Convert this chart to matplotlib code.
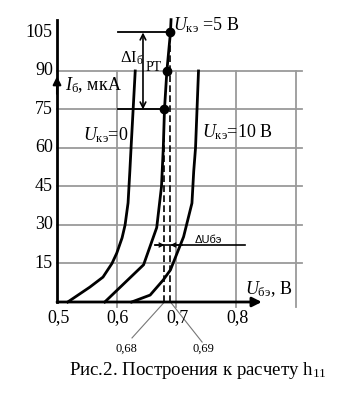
import matplotlib
matplotlib.use("Agg")
import matplotlib.pyplot as plt

plt.rcParams['font.family'] = ['Liberation Serif', 'DejaVu Serif']
plt.rcParams['mathtext.fontset'] = 'custom'
plt.rcParams['mathtext.rm'] = 'Liberation Serif'
plt.rcParams['mathtext.it'] = 'Liberation Serif:italic'

# input characteristics Iб(Uбэ) for Uкэ = 0, 5, 10 В
u_ce0_u = [0.518, 0.555, 0.577, 0.592, 0.600, 0.609, 0.614, 0.619, 0.622, 0.624, 0.631]
u_ce0_i = [0, 5.8, 9.7, 15, 19, 25, 30, 38.6, 51, 60, 90]

u_ce5_u = [0.580, 0.645, 0.667, 0.675, 0.678, 0.680, 0.684, 0.690, 0.691]
u_ce5_i = [0, 14.5, 29, 45, 60, 75, 90, 105, 110]

u_ce10_u = [0.625, 0.656, 0.678, 0.690, 0.712, 0.726, 0.729, 0.732, 0.737]
u_ce10_i = [0, 2.7, 8.6, 12.5, 25.4, 38.5, 51, 60, 90]

# working points (Iб = 75, 90, 105 мкА on Uкэ = 5 В)
pt_u = [0.680, 0.684, 0.690]
pt_i = [75, 90, 105]

x_ticks = [0.5, 0.6, 0.7, 0.8]
x_labels = ['0,5', '0,6', '0,7', '0,8']
y_ticks = [15, 30, 45, 60, 75, 90, 105]
grid_x = [0.6, 0.7, 0.8, 0.9]
grid_y = [15, 30, 45, 60, 75, 90]

fig = plt.figure(figsize=(3.52, 3.96), dpi=100)
ax = fig.add_axes([0, 0, 1, 1])
ax.set_xlim(0.4045, 0.9941)
ax.set_ylim(-36.62, 117.65)
ax.axis('off')

gc = '#9a9a9a'
for gx in grid_x:
    ax.plot([gx, gx], [-2, 90], color=gc, lw=1.3, zorder=1)
for gy in grid_y:
    ax.plot([0.5, 0.91], [gy, gy], color=gc, lw=1.3, zorder=1)

# axes with arrows
ax.plot([0.5, 0.5], [0, 110], color='k', lw=2, zorder=3)
ax.annotate('', xy=(0.5, 89), xytext=(0.5, 80),
            arrowprops=dict(arrowstyle='-|>', color='k', lw=1.5, mutation_scale=12))
ax.annotate('', xy=(0.843, 0), xytext=(0.5, 0),
            arrowprops=dict(arrowstyle='-|>', color='k', lw=2, mutation_scale=14,
                            shrinkA=0, shrinkB=0))

# curves
for uu, ii in [(u_ce0_u, u_ce0_i), (u_ce5_u, u_ce5_i), (u_ce10_u, u_ce10_i)]:
    ax.plot(uu, ii, color='k', lw=2, zorder=4)

# dashed projections to x axis
ax.plot([0.68, 0.68], [0, 75], color='k', lw=1.2, ls=(0, (4, 2)), zorder=3)
ax.plot([0.69, 0.69], [0, 105], color='k', lw=1.2, ls=(0, (4, 2)), zorder=3)

ax.plot(pt_u, pt_i, 'o', color='k', ms=6, zorder=5)

# ΔIб construction
ax.plot([0.602, 0.69], [105, 105], color='k', lw=1.3)
ax.plot([0.602, 0.68], [75, 75], color='k', lw=1.3)
ax.annotate('', xy=(0.644, 105), xytext=(0.644, 75),
            arrowprops=dict(arrowstyle='<->', color='k', lw=1.2, shrinkA=0, shrinkB=0))
ax.text(0.6055, 95, r'Δ$\mathrm{I}_{\mathrm{б}}$', fontsize=12, ha='left', va='center')
ax.text(0.676, 91.5, 'PT', fontsize=10, ha='right', va='center')

# ΔUбэ construction
ax.plot([0.664, 0.815], [22.2, 22.2], color='k', lw=1.2)
ax.annotate('', xy=(0.68, 22.2), xytext=(0.664, 22.2),
            arrowprops=dict(arrowstyle='->', color='k', lw=1.0, shrinkA=0, shrinkB=0, mutation_scale=7))
ax.annotate('', xy=(0.69, 22.2), xytext=(0.71, 22.2),
            arrowprops=dict(arrowstyle='->', color='k', lw=1.0, shrinkA=0, shrinkB=0, mutation_scale=7))
ax.text(0.731, 24, 'ΔUбэ', fontsize=8, ha='left', va='center', family=['Liberation Sans'])

# tick labels
for v in y_ticks:
    ax.text(0.493, v, str(v), fontsize=13, ha='right', va='center')
for v, lab in zip(x_ticks, x_labels):
    ax.text(v + 0.002, -6, lab, fontsize=13, ha='center', va='center')

# leader lines to 0,68 and 0,69
ax.plot([0.68, 0.6256], [0, -14], color='#777777', lw=0.8)
ax.plot([0.69, 0.743], [0, -15.6], color='#777777', lw=0.8)
ax.text(0.617, -18.3, '0,68', fontsize=9, ha='center', va='center')
ax.text(0.746, -18.3, '0,69', fontsize=9, ha='center', va='center')

# curve and axis labels
ax.text(0.513, 84.5, r'$I_{\mathrm{б}}$, мкА', fontsize=13, ha='left', va='center')
ax.text(0.543, 65, r'$U_{\mathrm{кэ}}$=0', fontsize=13, ha='left', va='center')
ax.text(0.694, 108, r'$U_{\mathrm{кэ}}$ =5 В', fontsize=13, ha='left', va='center')
ax.text(0.743, 66, r'$U_{\mathrm{кэ}}$=10 В', fontsize=13, ha='left', va='center')
ax.text(0.815, 5, r'$U_{\mathrm{бэ}}$, В', fontsize=13, ha='left', va='center')

ax.text(0.952, -28.4, r'Рис.2. Построения к расчету h$_{11}$', fontsize=13.6,
        ha='right', va='baseline')

fig.savefig('out.png', dpi=100)
